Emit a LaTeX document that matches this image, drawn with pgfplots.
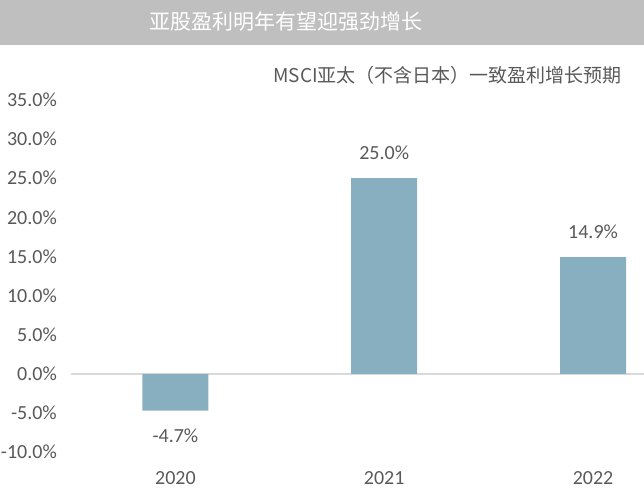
\documentclass[border=0pt]{standalone}
\usepackage{fontspec}
\setmainfont{Carlito}
\newfontfamily\cjk{Noto Sans CJK SC}
\usepackage{pgfplots}
\pgfplotsset{compat=1.18}
\definecolor{barblue}{HTML}{88AFC0}
\definecolor{txt}{HTML}{595959}
\definecolor{zeroline}{HTML}{D9D9D9}
\definecolor{titlegray}{HTML}{BFBFBF}
\begin{document}
\begin{tikzpicture}[x=1pt,y=1pt]
\useasboundingbox (0,0) rectangle (644,489);
\fill[titlegray] (0,444) rectangle (644,489);
\node[text=white, font=\cjk\fontsize{21}{24}\selectfont] at (286,467) {亚股盈利明年有望迎强劲增长};
\node[text=txt, anchor=east, inner sep=0pt, font=\cjk\fontsize{19}{22}\selectfont] at (622,414) {MSCI亚太（不含日本）一致盈利增长预期};
\begin{axis}[
    at={(71pt,37pt)}, anchor=south west,
    scale only axis,
    width=573pt, height=352pt,
    ybar, bar width=66pt,
    xmin=-0.5, xmax=2.244,
    ymin=-10, ymax=35,
    xtick={0,1,2}, xticklabels={2020,2021,2022},
    ytick={-10,-5,0,5,10,15,20,25,30,35},
    yticklabel={\pgfmathprintnumber[fixed,fixed zerofill,precision=1]{\tick}\%},
    /pgf/number format/assume math mode=true,
    axis line style={draw=none},
    tick style={draw=none},
    ticklabel style={font=\fontsize{20}{22}\selectfont, text=txt},
    yticklabel style={anchor=east, inner sep=0pt, xshift=-14pt},
    xticklabel style={anchor=north, inner sep=0pt, yshift=-15pt},
    extra y ticks={0}, extra y tick labels={},
    extra y tick style={grid=major, grid style={zeroline, line width=1.5pt}},
    nodes near coords={\pgfmathprintnumber[fixed,fixed zerofill,precision=1]{\pgfplotspointmeta}\%},
    nodes near coords align=vertical,
    every node near coord/.append style={font=\fontsize{20}{22}\selectfont, text=txt, inner xsep=0pt, inner ysep=18pt},
    clip=false,
]
\addplot[fill=barblue, draw=none] coordinates {(0,-4.7) (1,25.0) (2,14.9)};
\end{axis}
\end{tikzpicture}
\end{document}
